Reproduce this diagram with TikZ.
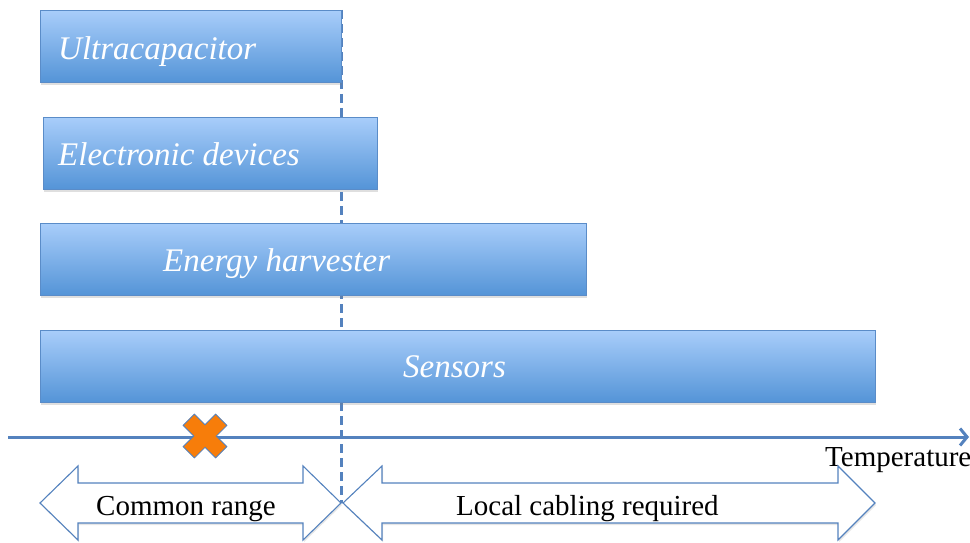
\documentclass[tikz,border=0pt]{standalone}
\usepackage{fontspec}
\setmainfont{Liberation Serif}
\newfontfamily\baritfont{Liberation Serif Italic}
\usetikzlibrary{arrows.meta,shadows}
\definecolor{barTop}{RGB}{168,205,250}
\definecolor{barBot}{RGB}{84,148,215}
\definecolor{barEdge}{RGB}{90,140,200}
\definecolor{axisBlue}{RGB}{84,130,190}
\definecolor{xOrange}{RGB}{247,125,10}
\tikzset{
  bar/.style={rectangle, draw=barEdge, line width=0.8pt, top color=barTop, bottom color=barBot,
    minimum height=72pt, inner sep=0pt, anchor=north west,
    drop shadow={opacity=0.25, shadow xshift=1pt, shadow yshift=-3pt}},
  bartext/.style={anchor=base west, inner sep=0pt, text=white, font=\baritfont\fontsize{33}{36}\selectfont},
  rangebox/.style={draw=axisBlue, line width=1.1pt, fill=white, line join=miter,
    drop shadow={opacity=0.2, shadow xshift=1pt, shadow yshift=-2pt}},
  rangetext/.style={inner sep=0pt, font=\fontsize{29}{32}\selectfont},
  axisline/.style={draw=axisBlue, line width=3pt, -{Straight Barb[length=7pt,width=17pt]}},
  divider/.style={draw=axisBlue, line width=3pt, dash pattern=on 9pt off 5pt},
}
\begin{document}
\begin{tikzpicture}[x=1pt,y=-1pt]
\useasboundingbox (0,0) rectangle (970,543);
% divider
\coordinate (dtop) at (341,10);
\coordinate (dbot) at (341,503);
\draw[divider] (dtop) -- (dbot);
% bars
\node[bar, minimum width=301pt] (ultra) at (40,10) {};
\node[bartext] (ultraT) at (58,60) {Ultracapacitor};
\node[bar, minimum width=334pt] (elec) at (43,117) {};
\node[bartext] (elecT) at (58,165) {Electronic devices};
\node[bar, minimum width=546pt] (energy) at (40,223) {};
\node[bartext] (energyT) at (163,271) {Energy harvester};
\node[bar, minimum width=835pt] (sens) at (40,330) {};
\node[bartext] (sensT) at (403,377) {Sensors};
% axis
\coordinate (a0) at (8,437);
\coordinate (a1) at (969,437);
\draw[axisline] (a0) -- (a1);
\node[rangetext, anchor=base west] (temp) at (825,466) {Temperature};
% orange cross
\begin{scope}[shift={(205,436)}, rotate=45]
\filldraw[fill=xOrange, draw=axisBlue, line width=0.8pt]
  (-8,-23) -- (8,-23) -- (8,-8) -- (23,-8) -- (23,8) -- (8,8) -- (8,23) -- (-8,23) -- (-8,8) -- (-23,8) -- (-23,-8) -- (-8,-8) -- cycle;
\end{scope}
% range arrows
\path[rangebox] (40,503) -- (78,466) -- (78,483) -- (303,483) -- (303,466) -- (341,503) -- (303,540) -- (303,523) -- (78,523) -- (78,540) -- cycle;
\node[rangetext, anchor=base west] (common) at (96,515) {Common range};
\path[rangebox] (343,503) -- (382,466) -- (382,483) -- (838,483) -- (838,466) -- (875,503) -- (838,540) -- (838,523) -- (382,523) -- (382,540) -- cycle;
\node[rangetext, anchor=base west] (local) at (456,515) {Local cabling required};
\end{tikzpicture}
\end{document}
